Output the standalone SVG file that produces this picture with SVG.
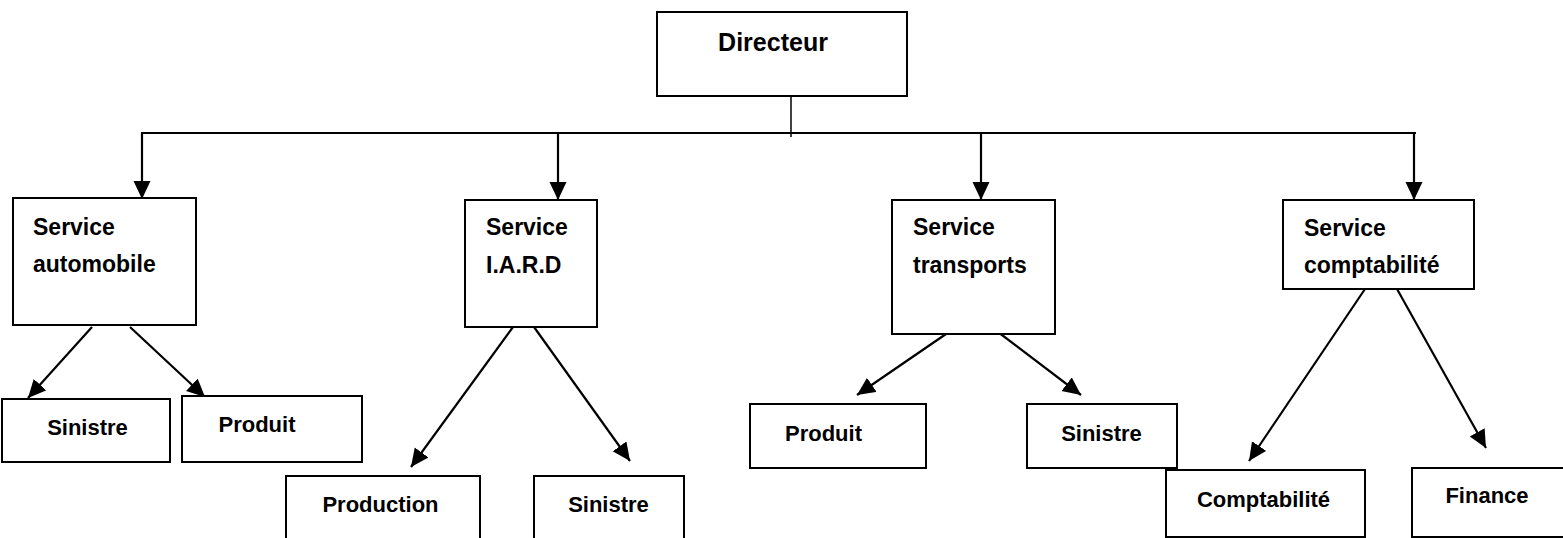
<svg xmlns="http://www.w3.org/2000/svg" width="1563" height="538" viewBox="0 0 1563 538">
  <style>
    .box { fill: #ffffff; stroke: #000000; stroke-width: 2; }
    .lbl { font-family: "Liberation Sans", Arial, sans-serif; font-weight: bold; font-size: 22px; fill: #000000; }
    .mid { text-anchor: middle; }
    .edge { fill: none; stroke: #000000; stroke-width: 2.2; }
    .arrow { marker-end: url(#head); }
  </style>
  <defs>
    <marker id="head" markerUnits="userSpaceOnUse" markerWidth="20" markerHeight="18" refX="18" refY="8.5" orient="auto">
      <path d="M0,0 L18,8.5 L0,17 z" fill="#000000"/>
    </marker>
  </defs>

  <rect width="1563" height="538" fill="#ffffff"/>

  <!-- connectors -->
  <g id="connectors">
    <line class="edge" x1="791" y1="90" x2="791" y2="137" style="stroke-width:1.5"/>
    <line class="edge" x1="141" y1="133" x2="1416" y2="133"/>
    <line class="edge arrow" x1="142" y1="133" x2="142" y2="199"/>
    <line class="edge arrow" x1="558" y1="133" x2="558" y2="200"/>
    <line class="edge arrow" x1="981" y1="133" x2="981" y2="200"/>
    <line class="edge arrow" x1="1414" y1="133" x2="1414" y2="200"/>

    <line class="edge arrow" x1="92" y1="327" x2="28" y2="398"/>
    <line class="edge arrow" x1="130" y1="327" x2="205" y2="397"/>

    <line class="edge arrow" x1="513" y1="327" x2="411" y2="467"/>
    <line class="edge arrow" x1="534" y1="327" x2="630" y2="461"/>

    <line class="edge arrow" x1="946" y1="334" x2="857" y2="395"/>
    <line class="edge arrow" x1="994" y1="329" x2="1081" y2="395"/>

    <line class="edge arrow" x1="1365" y1="289" x2="1249" y2="461"/>
    <line class="edge arrow" x1="1397" y1="289" x2="1486" y2="448"/>
  </g>

  <!-- top level -->
  <g id="directeur">
    <rect class="box" x="657" y="12" width="250" height="84"/>
    <text class="lbl mid" x="773" y="51" style="font-size:25px">Directeur</text>
  </g>

  <!-- services -->
  <g id="service-automobile">
    <rect class="box" x="13" y="198" width="183" height="127"/>
    <text class="lbl" x="33" y="235" style="font-size:23px">Service</text>
    <text class="lbl" x="33" y="272" style="font-size:23px">automobile</text>
  </g>
  <g id="service-iard">
    <rect class="box" x="465" y="200" width="132" height="127"/>
    <text class="lbl" x="486" y="235" style="font-size:23px">Service</text>
    <text class="lbl" x="486" y="273" style="font-size:23px">I.A.R.D</text>
  </g>
  <g id="service-transports">
    <rect class="box" x="892" y="200" width="163" height="134"/>
    <text class="lbl" x="913" y="235" style="font-size:23px">Service</text>
    <text class="lbl" x="913" y="273" style="font-size:23px">transports</text>
  </g>
  <g id="service-comptabilite">
    <rect class="box" x="1283" y="200" width="191" height="89"/>
    <text class="lbl" x="1304" y="236" style="font-size:23px">Service</text>
    <text class="lbl" x="1304" y="273" style="font-size:23px">comptabilité</text>
  </g>

  <!-- sub-units -->
  <g id="auto-sinistre">
    <rect class="box" x="2" y="399" width="168" height="63"/>
    <text class="lbl mid" x="87.5" y="435">Sinistre</text>
  </g>
  <g id="auto-produit">
    <rect class="box" x="182" y="396" width="180" height="66"/>
    <text class="lbl mid" x="257" y="432">Produit</text>
  </g>
  <g id="iard-production">
    <rect class="box" x="286" y="476" width="194" height="70"/>
    <text class="lbl mid" x="380.5" y="512">Production</text>
  </g>
  <g id="iard-sinistre">
    <rect class="box" x="534" y="476" width="150" height="70"/>
    <text class="lbl mid" x="608.5" y="512">Sinistre</text>
  </g>
  <g id="transports-produit">
    <rect class="box" x="750" y="404" width="176" height="64"/>
    <text class="lbl mid" x="823.5" y="441">Produit</text>
  </g>
  <g id="transports-sinistre">
    <rect class="box" x="1027" y="404" width="150" height="64"/>
    <text class="lbl mid" x="1101.5" y="441">Sinistre</text>
  </g>
  <g id="comptabilite">
    <rect class="box" x="1166" y="470" width="199" height="67"/>
    <text class="lbl mid" x="1263.5" y="507">Comptabilité</text>
  </g>
  <g id="finance">
    <rect class="box" x="1412" y="468" width="160" height="69"/>
    <text class="lbl mid" x="1487" y="503">Finance</text>
  </g>
</svg>
